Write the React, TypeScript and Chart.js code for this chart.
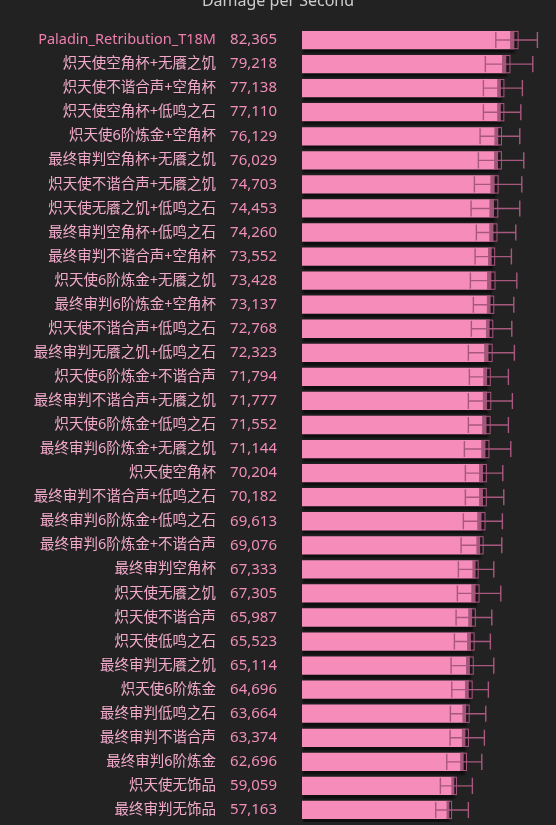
import React, { useEffect, useRef } from "react";
import { Chart, registerables } from "chart.js";

Chart.register(...registerables);

const names = [
  "Paladin_Retribution_T18M",
  "炽天使空角杯+无餍之饥",
  "炽天使不谐合声+空角杯",
  "炽天使空角杯+低鸣之石",
  "炽天使6阶炼金+空角杯",
  "最终审判空角杯+无餍之饥",
  "炽天使不谐合声+无餍之饥",
  "炽天使无餍之饥+低鸣之石",
  "最终审判空角杯+低鸣之石",
  "最终审判不谐合声+空角杯",
  "炽天使6阶炼金+无餍之饥",
  "最终审判6阶炼金+空角杯",
  "炽天使不谐合声+低鸣之石",
  "最终审判无餍之饥+低鸣之石",
  "炽天使6阶炼金+不谐合声",
  "最终审判不谐合声+无餍之饥",
  "炽天使6阶炼金+低鸣之石",
  "最终审判6阶炼金+无餍之饥",
  "炽天使空角杯",
  "最终审判不谐合声+低鸣之石",
  "最终审判6阶炼金+低鸣之石",
  "最终审判6阶炼金+不谐合声",
  "最终审判空角杯",
  "炽天使无餍之饥",
  "炽天使不谐合声",
  "炽天使低鸣之石",
  "最终审判无餍之饥",
  "炽天使6阶炼金",
  "最终审判低鸣之石",
  "最终审判不谐合声",
  "最终审判6阶炼金",
  "炽天使无饰品",
  "最终审判无饰品",
];

const dps = [
  82365, 79218, 77138, 77110, 76129, 76029, 74703, 74453, 74260, 73552, 73428,
  73137, 72768, 72323, 71794, 71777, 71552, 71144, 70204, 70182, 69613, 69076,
  67333, 67305, 65987, 65523, 65114, 64696, 63664, 63374, 62696, 59059, 57163,
];

const rangeLow = [
  75150, 71110, 70340, 70340, 69060, 68400, 66850, 65570, 67620, 67120, 65290,
  66460, 65680, 64520, 64910, 64520, 64520, 62970, 63350, 63350, 62580, 61690,
  60640, 60250, 59750, 59090, 57810, 58080, 57540, 57420, 56140, 53660, 51870,
];

const rangeHigh = [
  91290, 89500, 85470, 84850, 84460, 86010, 85230, 84460, 82910, 81200, 83300,
  82130, 81360, 82360, 80040, 81590, 80040, 80970, 77860, 78250, 77710, 77480,
  74370, 77090, 73600, 73050, 74370, 72280, 71270, 70730, 69720, 66070, 64520,
];

const meanError = [
  1620, 1620, 1360, 1360, 1420, 1490, 1550, 1680, 1550, 1360, 1620, 1420, 1420,
  1620, 1420, 1620, 1620, 1550, 1490, 1490, 1550, 1360, 1160, 1550, 1420, 1420,
  1490, 1490, 1360, 1360, 1290, 1030, 1030,
];

const valueLabels = dps.map((v) => v.toLocaleString("en-US"));

const FONT = "'Noto Sans', 'Noto Sans CJK SC', sans-serif";

const errorBarPlugin = {
  id: "errorBars",
  beforeDatasetsDraw(chart: any) {
    const ctx = chart.ctx;
    ctx.save();
    ctx.shadowColor = "rgba(0,0,0,0.55)";
    ctx.shadowOffsetX = 1;
    ctx.shadowOffsetY = 4;
    ctx.shadowBlur = 2;
  },
  afterDatasetsDraw(chart: any) {
    const ctx = chart.ctx;
    ctx.restore();
    const meta = chart.getDatasetMeta(0);
    const xs = chart.scales.x;
    ctx.save();
    meta.data.forEach((bar: any, i: number) => {
      const y = bar.y;
      const h = bar.height;
      const lo = xs.getPixelForValue(rangeLow[i]);
      const hi = xs.getPixelForValue(rangeHigh[i]);
      const m0 = xs.getPixelForValue(dps[i] - meanError[i]);
      const m1 = xs.getPixelForValue(dps[i] + meanError[i]);
      ctx.fillStyle = "rgba(40,12,28,0.42)";
      ctx.fillRect(m0, y - h / 2, m1 - m0, h);
      ctx.strokeStyle = "#a8587f";
      ctx.lineWidth = 1;
      ctx.strokeRect(m0 + 0.5, y - h / 2 + 0.5, m1 - m0 - 1, h - 1);
      ctx.strokeStyle = "#a8587f";
      ctx.lineWidth = 1.4;
      ctx.beginPath();
      ctx.moveTo(lo, y);
      ctx.lineTo(hi, y);
      const cap = h * 0.44;
      ctx.moveTo(lo, y - cap);
      ctx.lineTo(lo, y + cap);
      ctx.moveTo(hi, y - cap);
      ctx.lineTo(hi, y + cap);
      ctx.stroke();
    });
    ctx.restore();
  },
};

export default function App() {
  const ref = useRef<HTMLCanvasElement | null>(null);

  useEffect(() => {
    if (!ref.current) return;
    const chart = new Chart(ref.current, {
      type: "bar",
      data: {
        labels: names,
        datasets: [
          {
            data: dps,
            backgroundColor: "#F58CBA",
            borderWidth: 0,
            barPercentage: 0.76,
            categoryPercentage: 1,
            xAxisID: "x",
            yAxisID: "y",
          },
        ],
      },
      options: {
        indexAxis: "y",
        animation: false,
        responsive: false,
        maintainAspectRatio: false,
        devicePixelRatio: 1,
        layout: { padding: { top: 0, right: 0, bottom: 3, left: 0 } },
        plugins: {
          legend: { display: false },
          tooltip: { enabled: false },
          title: {
            display: true,
            text: "Damage per Second",
            color: "#cccccc",
            font: { family: FONT, size: 16, weight: "normal" },
            padding: { top: 12, bottom: 16.8 },
          },
        },
        scales: {
          x: { type: "linear", display: false, min: 0, max: 98500 },
          y: {
            type: "category",
            position: "left",
            weight: 1,
            grid: { display: false, drawTicks: false },
            border: { display: false },
            ticks: {
              autoSkip: false,
              padding: 6,
              font: { family: FONT, size: 14.5 },
              color: (c: any) => (c.index === 0 ? "#EE7FAE" : "#F2AACA"),
            },
            afterFit: (s: any) => {
              s.width = 222;
              s.paddingTop = 0;
              s.paddingBottom = 0;
            },
          },
          yv: {
            type: "category",
            labels: valueLabels,
            position: "left",
            weight: 0,
            offset: true,
            grid: { display: false, drawTicks: false },
            border: { display: false },
            ticks: {
              autoSkip: false,
              padding: 25,
              font: { family: FONT, size: 15 },
              color: "#F08DB8",
            },
            afterFit: (s: any) => {
              s.width = 80;
              s.paddingTop = 0;
              s.paddingBottom = 0;
            },
          },
        },
      } as any,
      plugins: [errorBarPlugin],
    });
    return () => chart.destroy();
  }, []);

  return (
    <div
      style={{
        position: "fixed",
        left: 0,
        top: -20,
        width: 556,
        height: 845,
        background: "#222222",
      }}
    >
      <canvas ref={ref} width={556} height={845} style={{ display: "block" }} />
    </div>
  );
}
